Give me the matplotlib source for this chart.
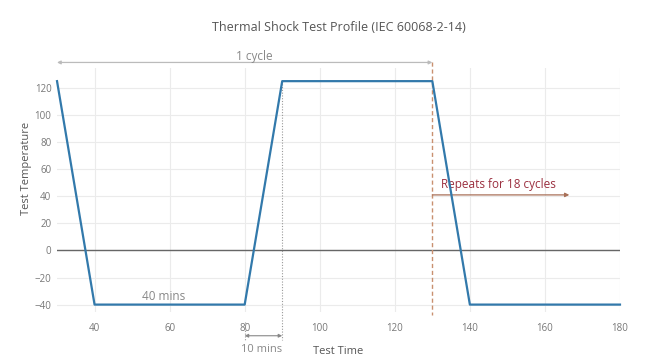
import matplotlib
matplotlib.use("Agg")
import matplotlib.pyplot as plt

plt.rcParams['font.family'] = ['Open Sans', 'DejaVu Sans']

time_min = [30, 40, 80, 90, 130, 140, 180]
temperature = [125, -40, -40, 125, 125, -40, -40]
x_ticks = [40, 60, 80, 100, 120, 140, 160, 180]
y_ticks = [-40, -20, 0, 20, 40, 60, 80, 100, 120]

fig = plt.figure(figsize=(6.67, 3.62), dpi=100)
ax = fig.add_axes([0.0855, 0.138, 0.844, 0.673])

ax.set_xlim(30, 180)
ax.set_ylim(-45.5, 134.4)
ax.set_xticks(x_ticks)
ax.set_yticks(y_ticks)
ax.grid(True, color='#ebebeb', linewidth=0.8)
ax.set_axisbelow(True)
for s in ax.spines.values():
    s.set_visible(False)
ax.tick_params(length=0, colors='#777777', labelsize=7, pad=4)
ax.tick_params(axis='x', pad=8)

ax.axhline(0, color='#666666', linewidth=1.0, zorder=2)

ax.plot(time_min, temperature, color='#3279ab', linewidth=1.6, zorder=4, clip_on=False)

# dotted guides
ax.plot([90, 90], [125, -66], color='#999999', linestyle=(0, (1, 1.5)), linewidth=0.8,
        clip_on=False, zorder=3)
ax.plot([80, 80], [-53, -66], color='#999999', linestyle=(0, (1, 1.5)), linewidth=0.8,
        clip_on=False, zorder=3)
ax.annotate('', xy=(90, -63), xytext=(80, -63), xycoords='data',
            arrowprops=dict(arrowstyle='<|-|>', color='#888888', lw=0.8,
                            mutation_scale=5, shrinkA=0, shrinkB=0),
            annotation_clip=False)
ax.text(84.5, -73, '10 mins', color='#888888', fontsize=8, ha='center', va='center')

# cycle boundary
ax.plot([130, 130], [139, -47.5], color='#c99070', linestyle=(0, (3, 2)), linewidth=1.0,
        clip_on=False, zorder=3)
ax.annotate('', xy=(130, 138.8), xytext=(30, 138.8), xycoords='data',
            arrowprops=dict(arrowstyle='<|-|>', color='#bbbbbb', lw=0.9,
                            mutation_scale=5, shrinkA=0, shrinkB=0),
            annotation_clip=False)
ax.text(82.5, 143, '1 cycle', color='#888888', fontsize=8.5, ha='center', va='center')

ax.annotate('', xy=(166.5, 41), xytext=(130, 41), xycoords='data',
            arrowprops=dict(arrowstyle='-|>', color='#a87058', lw=0.9,
                            mutation_scale=6, shrinkA=0, shrinkB=0),
            annotation_clip=False)
ax.text(147.5, 48.5, 'Repeats for 18 cycles', color='#9b2f3f', fontsize=8.5,
        ha='center', va='center')

ax.text(58.5, -34.3, '40 mins', color='#888888', fontsize=8.5, ha='center', va='center')

fig.text(0.508, 0.925, 'Thermal Shock Test Profile (IEC 60068-2-14)', color='#555555',
         fontsize=9, ha='center', va='center')
fig.text(0.507, 0.028, 'Test Time', color='#555555', fontsize=8, ha='center', va='center')
fig.text(0.04, 0.535, 'Test Temperature', color='#555555', fontsize=8, ha='center',
         va='center', rotation=90)

fig.savefig('out.png', dpi=100)
